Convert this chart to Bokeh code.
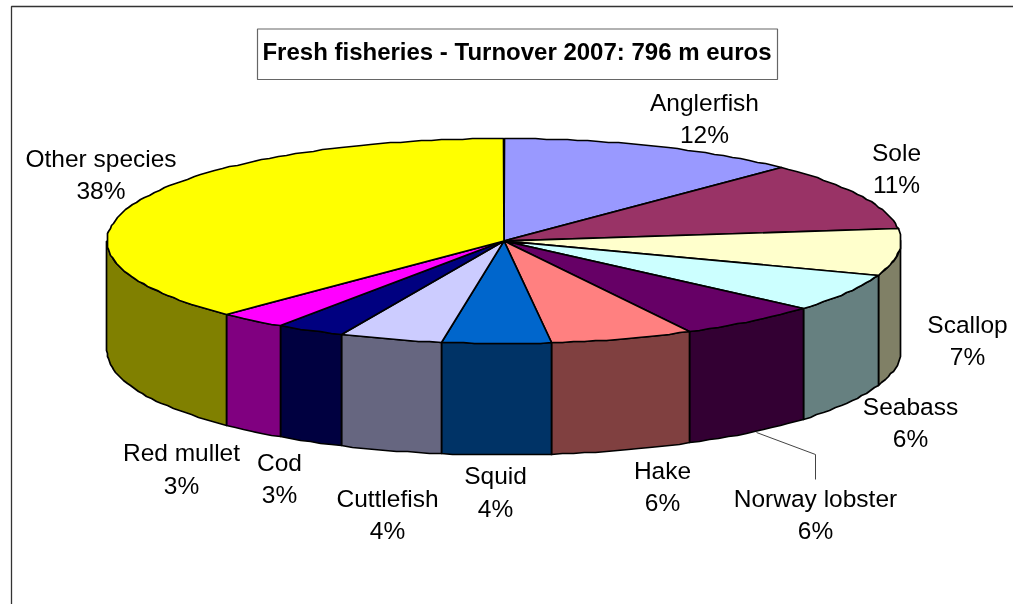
import numpy as np
from bokeh.embed import file_html
from bokeh.resources import INLINE
from bokeh.plotting import figure
from bokeh.models import Range1d
from bokeh.core.properties import value

species = ["Anglerfish", "Sole", "Scallop", "Seabass", "Norway lobster", "Hake",
           "Squid", "Cuttlefish", "Cod", "Red mullet", "Other species"]
shares = [12.3, 10.8, 7.3, 6.02, 5.83, 5.83, 4.45, 4.16, 2.81, 2.8, 37.7]
title_text = "Fresh fisheries - Turnover 2007: 796 m euros"

top_colors = ["#9999FF", "#993366", "#FFFFCC", "#CCFFFF", "#660066", "#FF8080",
              "#0066CC", "#CCCCFF", "#000080", "#FF00FF", "#FFFF00"]
side_colors = ["#4D4D80", "#4D1A33", "#808066", "#668080", "#330033", "#804040",
               "#003366", "#666680", "#000040", "#800080", "#808000"]

# layout (pixels): label centres
label_x = [704, 896, 967, 910, 815, 662, 495, 387, 279, 181, 100.5]
name_y = [102, 152, 324, 406, 498, 470, 475, 498, 462, 452, 158]
pct_y = [134, 184, 356, 438, 530, 502, 508, 530, 494, 485, 190]

W, H = 1013, 604
CX, CY = 503.5, 240.5
RX, RY = 397.0, 102.5
BOT_CY, BOT_RY = 350.0, 104.5

p = figure(width=W, height=H, output_backend="svg", toolbar_location=None,
           x_range=Range1d(0, W), y_range=Range1d(H, 0),
           min_border=0, outline_line_color=None, background_fill_color="white")
p.axis.visible = False
p.grid.visible = False
p.styles = {"position": "fixed", "left": "0px", "top": "0px"}

# chart-area frame
p.line([11, 11, W], [H, 6, 6], line_color="#333333", line_width=1.3)

edges = np.concatenate([[0.0], np.cumsum(shares)]) / sum(shares) * 360.0


def arc(a0, a1, cy, ry):
    n = max(2, int(abs(a1 - a0) / 1.5) + 1)
    t = np.radians(np.linspace(a0, a1, n))
    return np.round(CX + RX * np.sin(t)), np.round(cy - ry * np.cos(t))


# rim
for i in range(len(species)):
    a0, a1 = max(edges[i], 90.0), min(edges[i + 1], 270.0)
    if a1 <= a0:
        continue
    x0, y0 = arc(a0, a1, CY, RY)
    x1, y1 = arc(a1, a0, BOT_CY, BOT_RY)
    p.patch(list(x0) + list(x1), list(y0) + list(y1), fill_color=side_colors[i],
            line_color="black", line_width=1.7, line_join="round")

# top face
for i in range(len(species)):
    x0, y0 = arc(edges[i], edges[i + 1], CY, RY)
    p.patch([CX] + list(x0), [CY] + list(y0), fill_color=top_colors[i],
            line_color="black", line_width=1.7, line_join="round")

# leader line for Norway lobster
p.line([756, 815, 815], [432, 454, 479], line_color="#444444", line_width=1)

# title box
p.quad(left=[257], right=[777], top=[28.5], bottom=[79], fill_color="white",
       line_color="#666666", line_width=1.2)
p.text([516.5], [51], text=[title_text], text_font=value("Liberation Sans"),
       text_font_style="bold", text_font_size="24px", text_color="black",
       text_align="center", text_baseline="middle")

# labels
font = value("Liberation Sans")
p.text(label_x, name_y, text=species, text_font=font, text_font_size="24.5px",
       text_color="black", text_align="center", text_baseline="middle")
p.text(label_x, pct_y, text=[f"{round(v)}%" for v in shares], text_font=font,
       text_font_size="24.5px", text_color="black", text_align="center",
       text_baseline="middle")

open("out.html", "w").write(file_html(p, INLINE))
